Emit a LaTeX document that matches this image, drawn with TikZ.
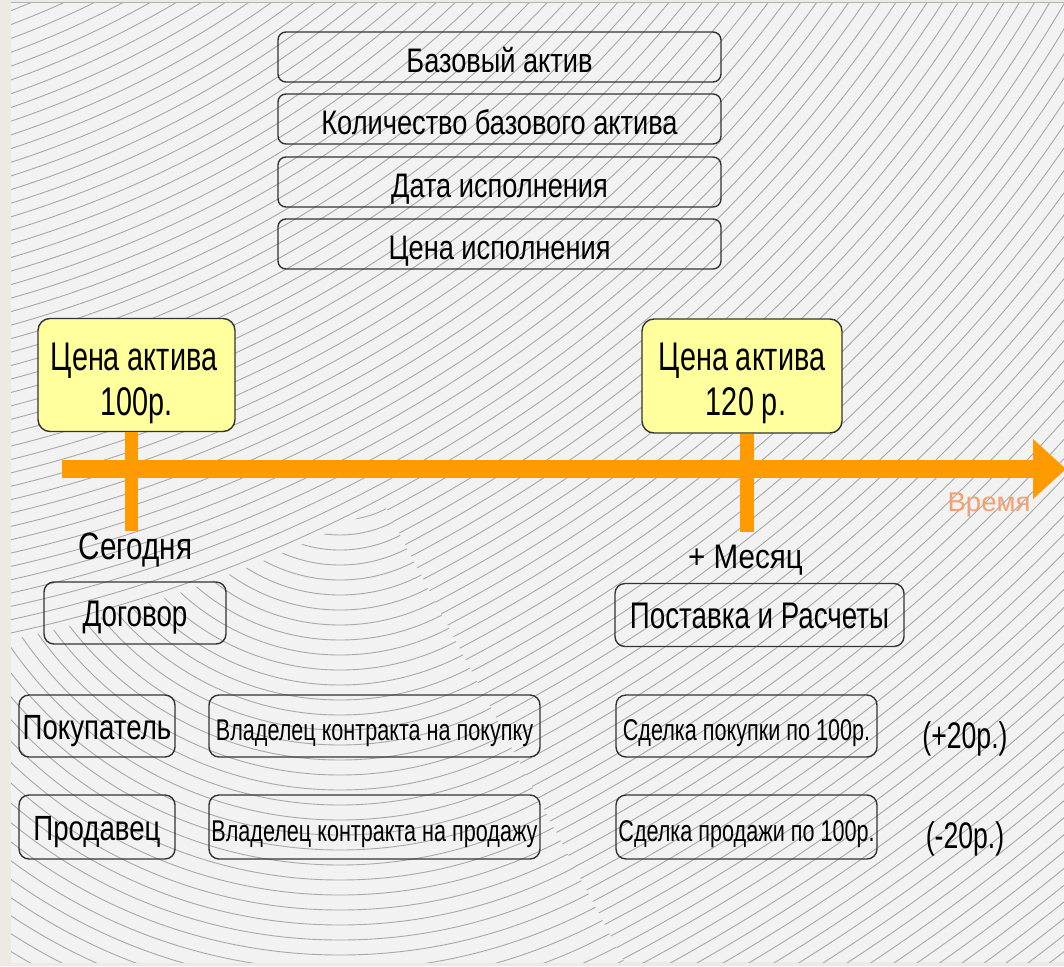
\documentclass[tikz,border=0pt]{standalone}
\usepackage{fontspec}
\setmainfont{Liberation Sans}
\newfontfamily\fTop{Liberation Sans}[FakeStretch=0.80]
\newfontfamily\fYel{Liberation Sans}[FakeStretch=0.72]
\newfontfamily\fMain{Liberation Sans}[FakeStretch=0.75]
\newfontfamily\fRow{Liberation Sans}[FakeStretch=0.79]
\newfontfamily\fSm{Liberation Sans}[FakeStretch=0.72]
\newfontfamily\fMes{Liberation Sans}[FakeStretch=0.87]
\newfontfamily\fToday{Liberation Sans}[FakeStretch=0.78]
\newfontfamily\fTime{Liberation Sans}[FakeStretch=1.02]
\usetikzlibrary{arrows.meta,calc}
\definecolor{panel}{HTML}{F2F2F2}
\definecolor{beige}{HTML}{ECEAE3}
\definecolor{pat}{HTML}{A8A8A8}
\definecolor{boxc}{HTML}{333333}
\definecolor{yel}{HTML}{FFFF9E}
\definecolor{orng}{HTML}{FF9A00}
\definecolor{timec}{HTML}{F4A070}
\tikzset{
  frame/.style={draw=boxc, line width=1.4pt, inner sep=0pt, text=black},
  topbox/.style={frame, rounded corners=8pt, minimum width=443pt, minimum height=50pt,
    font=\fTop\fontsize{34}{38}\selectfont, text height=30.3pt, text depth=0pt},
  yelbox/.style={frame, fill=yel, rounded corners=12pt},
  ytext/.style={font=\fYel\fontsize{40}{46}\selectfont, anchor=base, inner sep=0pt},
  rowbox/.style={frame, rounded corners=10pt, minimum height=62pt},
  mainT/.style={font=\fMain\fontsize{37}{42}\selectfont, text height=26.5pt, text depth=0pt},
  mainTb/.style={font=\fRow\fontsize{35}{40}\selectfont, text height=27pt, text depth=0pt},
  smallT/.style={font=\fSm\fontsize{30}{34}\selectfont, text height=29.5pt, text depth=0pt},
  freetext/.style={anchor=base, inner sep=0pt},
  tl/.style={orng, line width=18pt},
  patline/.style={pat, line width=0.9pt},
}
\begin{document}
\begin{tikzpicture}[x=1pt,y=-1pt]
\useasboundingbox (0,0) rectangle (1064,966);
% background
\fill[beige] (0,0) rectangle (1064,966);
\fill[panel] (11,3) rectangle (1064,962);
\begin{scope}
  \clip (11,3) rectangle (1064,962);
  \foreach \r in {790,803,...,2400} {
    \draw[patline] (-300,-800) circle[radius=\r pt];
  }
  \begin{scope}
    \clip plot[domain=0:384, samples=50] (\x, {-800+1473*sqrt(1-((\x+300)/1473)^2)})
      -- (660,1030) -- (0,1030) -- cycle;
    \fill[panel] (0,0) rectangle (1100,1040);
    \foreach \r in {70,85,...,660} {
      \draw[patline] (340,420) circle[radius=\r pt];
    }
  \end{scope}
\end{scope}
\draw[gray!60, line width=1pt] (11,3) -- (1064,3);

% top boxes
\node[topbox] (b1) at (499.5,57) {Базовый актив};
\node[topbox] (b2) at (499.5,119) {Количество базового актива};
\node[topbox] (b3) at (499.5,182) {Дата исполнения};
\node[topbox] (b4) at (499.5,244) {Цена исполнения};

% price boxes
\node[yelbox, minimum width=197pt, minimum height=113pt] (p1) at (136.5,375) {};
\node[ytext] (p1a) at (134,370) {Цена актива};
\node[ytext] (p1b) at (136.5,415) {100р.};
\node[yelbox, minimum width=200pt, minimum height=114pt] (p2) at (742,376) {};
\node[ytext] (p2a) at (742,370) {Цена актива};
\node[ytext] (p2b) at (746,415) {120 р.};

% timeline
\coordinate (t0) at (62,469);
\coordinate (t1) at (1066,469);
\draw[tl, -{Triangle[width=58pt,length=33pt]}] (t0) -- (t1);
\coordinate (k1) at (131.5,531);
\coordinate (k2) at (747,532);
\draw[orng, line width=13.5pt] (p1.south -| k1) -- (k1);
\draw[orng, line width=14pt] (p2.south -| k2) -- (k2);

% labels
\node[freetext, font=\fToday\fontsize{38}{44}\selectfont] (today) at (135.5,559) {Сегодня};
\node[freetext, font=\fMes\fontsize{34}{40}\selectfont] (month) at (745.5,568) {+ Месяц};
\node[freetext, font=\fTime\fontsize{27}{32}\selectfont, text=timec] (time) at (989,511) {Время};

% row boxes
\node[rowbox, mainT, minimum width=182pt] (dog) at (135,613) {Договор};
\node[rowbox, mainT, minimum width=289pt, minimum height=63pt] (post) at (759.5,615) {Поставка и Расчеты};

\node[rowbox, mainTb, minimum width=156pt] (buy) at (97,726) {Покупатель};
\node[rowbox, smallT, minimum width=331pt] (own1) at (374.5,726) {Владелец контракта на покупку};
\node[rowbox, smallT, minimum width=261pt] (deal1) at (746.5,726) {Сделка покупки по 100р.};
\node[freetext, font=\fSm\fontsize{37}{42}\selectfont] (g1) at (965,748) {(+20р.)};

\node[rowbox, mainTb, minimum width=156pt, minimum height=64pt] (sell) at (97,827) {Продавец};
\node[rowbox, smallT, minimum width=331pt, minimum height=64pt] (own2) at (374.5,827) {Владелец контракта на продажу};
\node[rowbox, smallT, minimum width=261pt, minimum height=64pt] (deal2) at (746.5,827) {Сделка продажи по 100р.};
\node[freetext, font=\fSm\fontsize{37}{42}\selectfont] (g2) at (965,848) {(-20р.)};
\end{tikzpicture}
\end{document}
